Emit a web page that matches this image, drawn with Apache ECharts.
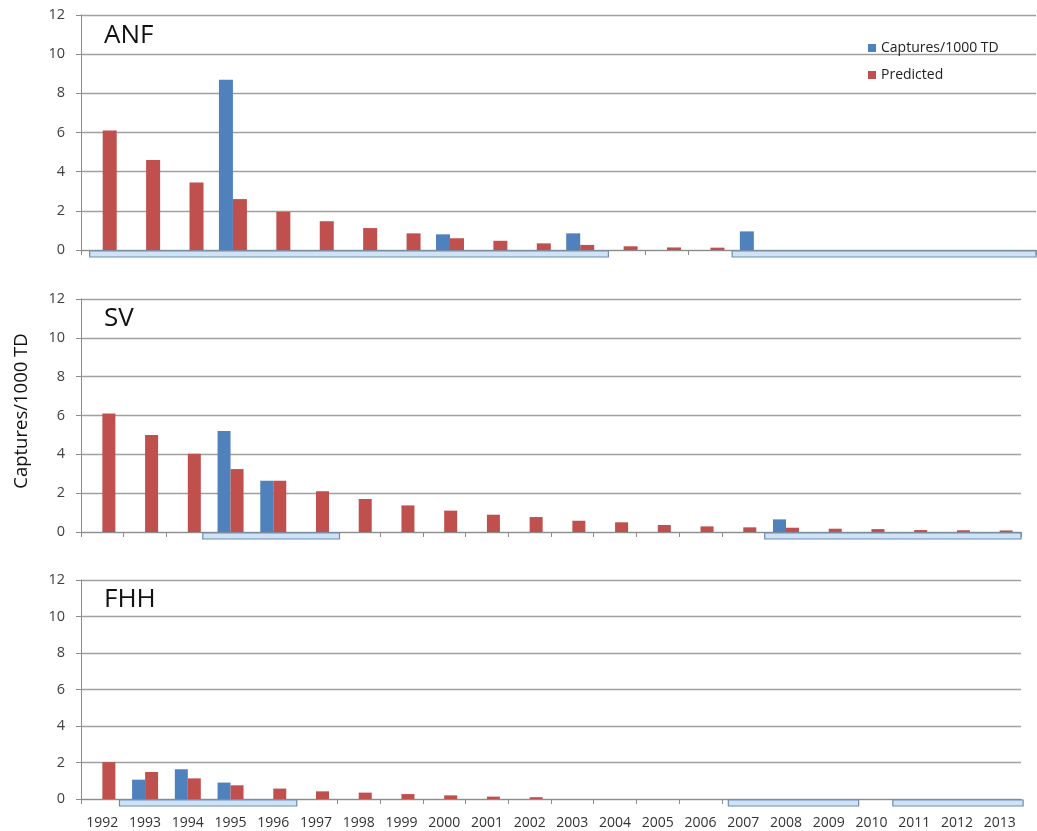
<!DOCTYPE html>
<html>
<head>
<meta charset="utf-8">
<script src="https://cdn.jsdelivr.net/npm/echarts@6/dist/echarts.min.js"></script>
<style>
html,body{margin:0;padding:0;background:#fff;}
#chart{width:1037px;height:831px;}
</style>
</head>
<body>
<div id="chart"></div>
<script>
// ---- data ----
const years = ['1992','1993','1994','1995','1996','1997','1998','1999','2000','2001','2002','2003','2004','2005','2006','2007','2008','2009','2010','2011','2012','2013'];
const yTicks = [0, 2, 4, 6, 8, 10, 12];
const panelNames = ['ANF', 'SV', 'FHH'];
const seriesNames = ['Captures/1000 TD', 'Predicted'];
const yAxisTitle = 'Captures/1000 TD';

const anfCaptures = [null,null,null,8.7,null,null,null,null,0.8,null,null,0.85,null,null,null,0.95,null,null,null,null,null,null];
const anfPredicted = [6.1,4.6,3.45,2.6,1.95,1.47,1.12,0.85,0.6,0.47,0.34,0.26,0.19,0.13,0.12,null,null,null,null,null,null,null];
const svCaptures = [null,null,null,5.2,2.64,null,null,null,null,null,null,null,null,null,null,null,0.65,null,null,null,null,null];
const svPredicted = [6.1,5.0,4.03,3.24,2.64,2.1,1.7,1.37,1.1,0.89,0.77,0.58,0.5,0.36,0.29,0.24,0.22,0.17,0.15,0.1,0.09,0.08];
const fhhCaptures = [null,1.06,1.63,0.9,null,null,null,null,null,null,null,null,null,null,null,null,null,null,null,null,null,null];
const fhhPredicted = [2.02,1.48,1.13,0.75,0.57,0.42,0.35,0.27,0.2,0.13,0.1,null,null,null,null,null,null,null,null,null,null,null];

// sampling periods drawn as bars under the axis (year coordinates; 1992 = start of 1992)
const anfPeriods = [[1992.2, 2004.15], [2007.0, 2014.0]];
const svPeriods = [[1994.85, 1998.05], [2008.0, 2014.0]];
const fhhPeriods = [[1992.9, 1997.05], [2007.15, 2010.2], [2011.0, 2014.05]];

const captures = [anfCaptures, svCaptures, fhhCaptures];
const predicted = [anfPredicted, svPredicted, fhhPredicted];
const periods = [anfPeriods, svPeriods, fhhPeriods];

// ---- layout / style ----
const FONT = 'Open Sans';
const BLUE = '#4F81BD';
const RED = '#C0504D';
const grids = [
  {left: 81, top: 15, width: 955, height: 235},
  {left: 81, top: 299, width: 940, height: 233},
  {left: 81, top: 580, width: 940, height: 219}
];
const barW = [14, 13, 13];

const chart = echarts.init(document.getElementById('chart'), null, {renderer: 'canvas'});

const xAxes = [], yAxes = [], series = [];
grids.forEach((g, i) => {
  xAxes.push({
    type: 'category', gridIndex: i, data: years,
    axisLine: {show: true, lineStyle: {color: '#8c8c8c', width: 1}},
    axisTick: {show: true, length: 5, lineStyle: {color: '#8c8c8c'}},
    axisLabel: {show: i === 2, color: '#333', fontFamily: FONT, fontSize: 14, margin: 17, interval: 0},
    splitLine: {show: false}
  });
  yAxes.push({
    type: 'value', gridIndex: i, min: yTicks[0], max: yTicks[yTicks.length - 1], interval: 2,
    axisLine: {show: true, lineStyle: {color: '#8c8c8c', width: 1}},
    axisTick: {show: true, length: 5, lineStyle: {color: '#8c8c8c'}},
    axisLabel: {color: '#404040', fontFamily: FONT, fontSize: 14.5, margin: 16},
    splitLine: {show: true, lineStyle: {color: '#a0a0a0', width: 1.3}}
  });
});
// hidden continuous year axes for the period rectangles
grids.forEach((g, i) => {
  xAxes.push({type: 'value', gridIndex: i, min: 1992, max: 2014, show: false});
});

grids.forEach((g, i) => {
  series.push({
    name: seriesNames[0], type: 'bar', xAxisIndex: i, yAxisIndex: i,
    data: captures[i], barWidth: barW[i], barGap: '0%',
    itemStyle: {color: BLUE}
  });
  series.push({
    name: seriesNames[1], type: 'bar', xAxisIndex: i, yAxisIndex: i,
    data: predicted[i], barWidth: barW[i], barGap: '0%',
    itemStyle: {color: RED}
  });
  series.push({
    type: 'custom', xAxisIndex: 3 + i, yAxisIndex: i, z: 5, silent: true,
    data: periods[i], encode: {x: [0, 1]},
    renderItem: function (params, api) {
      const p0 = api.coord([api.value(0), 0]);
      const p1 = api.coord([api.value(1), 0]);
      return {
        type: 'rect',
        shape: {x: p0[0], y: p0[1] + 1, width: p1[0] - p0[0], height: 6},
        style: {fill: '#cfe2f6', stroke: '#6d8db3', lineWidth: 1.2}
      };
    }
  });
});

const graphics = [];
const titleY = [36, 319, 600];
panelNames.forEach((n, i) => {
  graphics.push({
    type: 'text', x: 104, y: titleY[i],
    style: {text: n, font: '26px "' + FONT + '"', fill: '#111', verticalAlign: 'middle'}
  });
});
graphics.push({
  type: 'text', x: 22, y: 411, rotation: Math.PI / 2,
  style: {text: yAxisTitle, font: '18.5px "' + FONT + '"', fill: '#111', align: 'center', verticalAlign: 'middle'}
});

chart.setOption({
  backgroundColor: '#fff',
  animation: false,
  grid: grids,
  xAxis: xAxes,
  yAxis: yAxes,
  legend: {
    data: seriesNames, orient: 'vertical', left: 863, top: 36,
    itemWidth: 8, itemHeight: 8, itemGap: 13, icon: 'rect',
    textStyle: {color: '#222', fontFamily: FONT, fontSize: 14}
  },
  graphic: graphics,
  series: series
});
</script>
</body>
</html>
